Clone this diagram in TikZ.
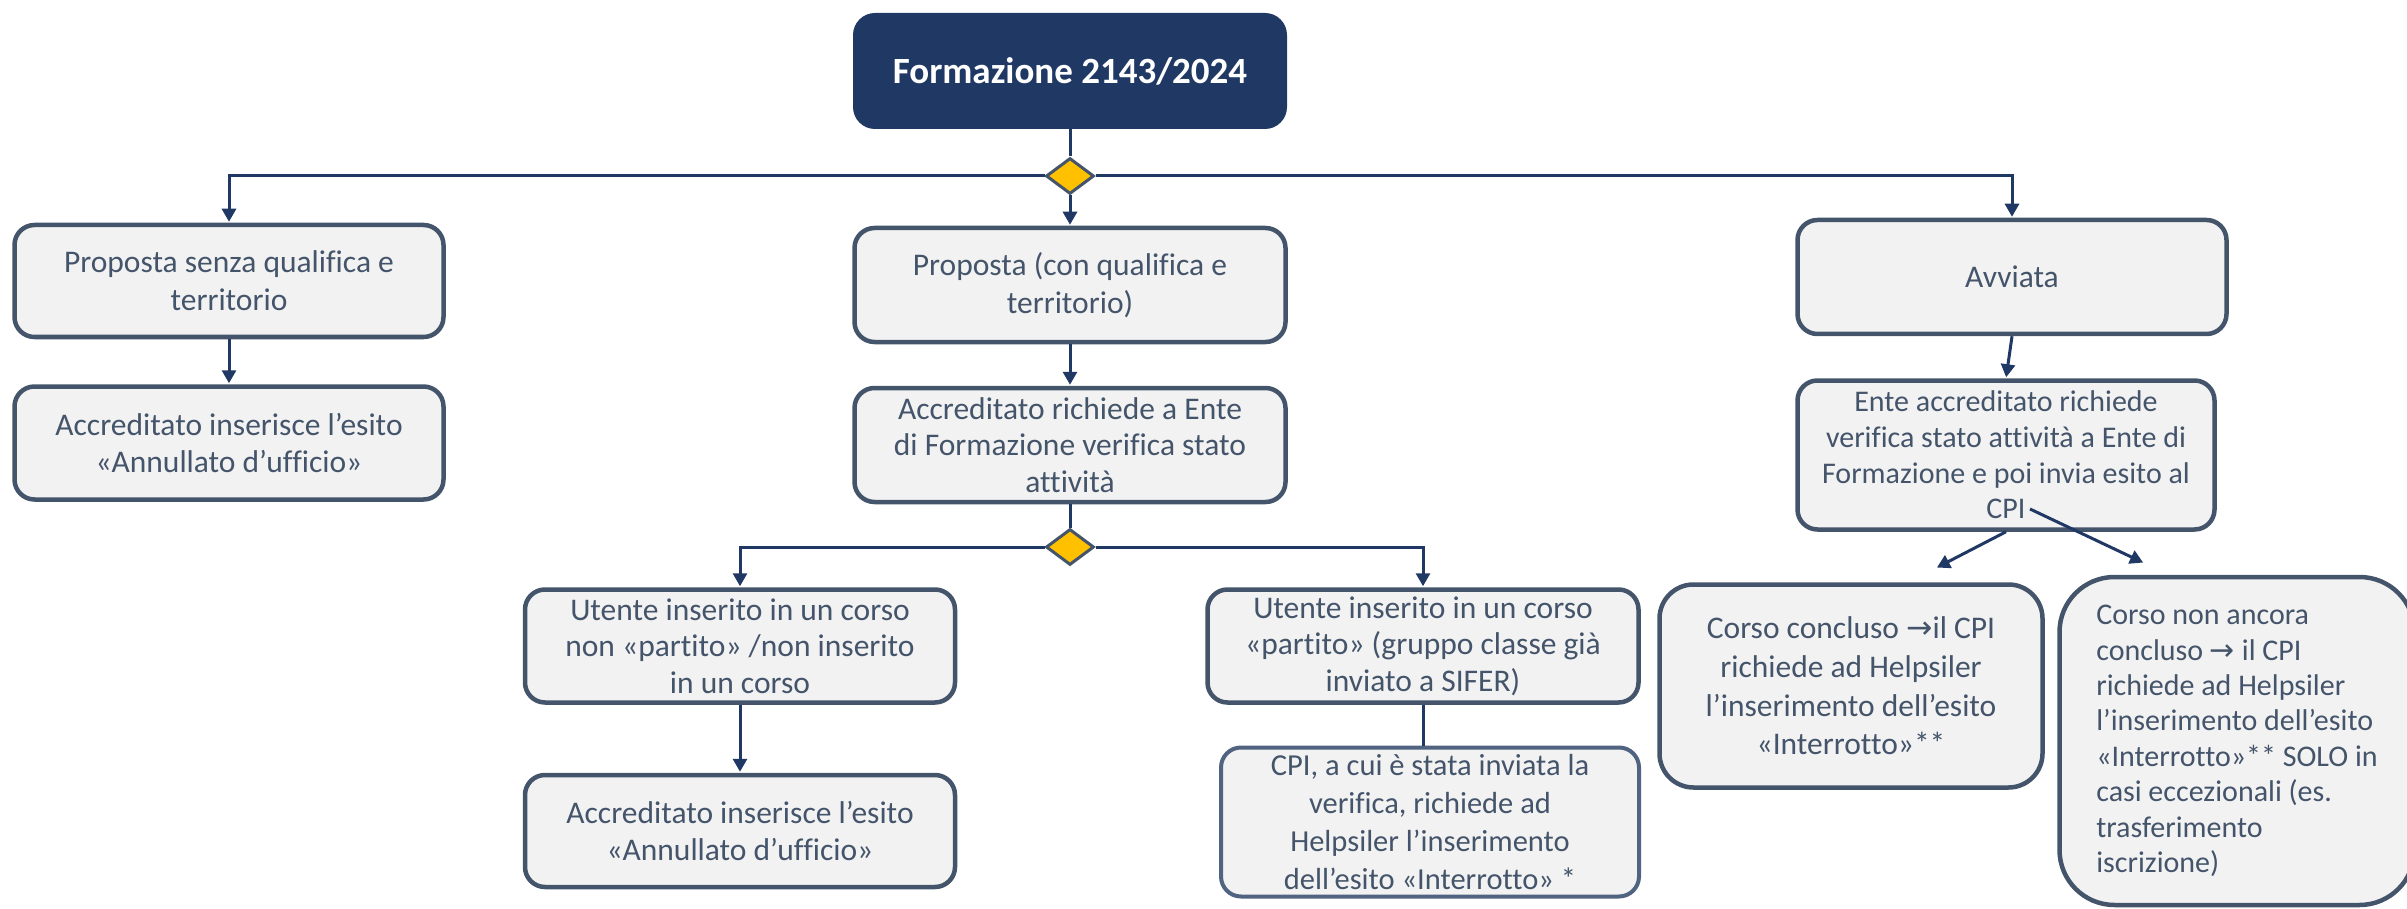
\documentclass[tikz,border=0pt]{standalone}
\usepackage{fontspec}
\setmainfont{Carlito}[Ligatures=NoCommon]
\newfontfamily\symfont{DejaVu Sans}
\usepackage{tikz}
\usetikzlibrary{shapes.geometric,arrows.meta}
\pgfdeclarelayer{background}
\pgfdeclarelayer{foreground}
\pgfsetlayers{background,main,foreground}
\definecolor{navy}{RGB}{32,56,100}
\definecolor{slate}{RGB}{68,84,106}
\definecolor{slateblue}{RGB}{80,99,128}
\definecolor{boxfill}{RGB}{242,242,242}
\definecolor{gold}{RGB}{255,192,0}
\tikzset{
  stepbox/.style={draw=slate, line width=4.5pt, fill=boxfill, rounded corners=20pt,
    text=slate, align=center, inner sep=0pt, font=\fontsize{31.5}{37.7}\selectfont},
  titlebox/.style={fill=navy, rounded corners=22pt, text=white, align=center,
    inner sep=0pt, font=\fontsize{37}{44}\selectfont\bfseries},
  choice/.style={diamond, draw=slate, line width=3pt, fill=gold, inner sep=0pt,
    minimum width=48pt, minimum height=36pt},
  flow/.style={draw=navy, line width=3pt, -{Triangle[length=13pt,width=14pt]}, shorten >=1pt},
  joint/.style={draw=navy, line width=3pt}
}
\newcommand{\rarr}{{\symfont →}}
\begin{document}
\begin{tikzpicture}[x=1pt,y=-1pt]
\useasboundingbox (0,0) rectangle (2407,909);

\node[titlebox, minimum width=434pt, minimum height=116pt] (top) at (1070,71) {Formazione 2143/2024};
\node[choice] (d1) at (1070,176) {};

% ramo sinistro
\node[stepbox, minimum width=429pt, minimum height=112pt] (senza) at (229,281) {Proposta senza qualifica e\\territorio};
\node[stepbox, minimum width=429pt, minimum height=113pt] (annA) at (229,443) {Accreditato inserisce l’esito\\«Annullato d’ufficio»};

% ramo centrale
\node[stepbox, minimum width=431pt, minimum height=114pt] (conq) at (1070,285) {Proposta (con qualifica e\\territorio)};
\node[stepbox, minimum width=431pt, minimum height=114pt, font=\fontsize{31.5}{36.5}\selectfont] (verif) at (1070,445) {Accreditato richiede a Ente\\di Formazione verifica stato\\attività};
\node[choice] (d2) at (1070,547) {};
\node[stepbox, minimum width=430pt, minimum height=113pt, font=\fontsize{31.5}{36.5}\selectfont] (nonpart) at (740,646) {Utente inserito in un corso\\non «partito» /non inserito\\in un corso};
\node[stepbox, minimum width=430pt, minimum height=112pt] (annB) at (740,831) {Accreditato inserisce l’esito\\«Annullato d’ufficio»};
\node[stepbox, minimum width=431pt, minimum height=113pt, font=\fontsize{31.5}{36.5}\selectfont] (part) at (1423,646) {Utente inserito in un corso\\«partito» (gruppo classe già\\inviato a SIFER)};
\node[stepbox, draw=slateblue, line width=4pt, minimum width=418pt, minimum height=149pt, font=\fontsize{30.5}{38}\selectfont] (cpi) at (1430,822) {CPI, a cui è stata inviata la\\verifica, richiede ad\\Helpsiler l’inserimento\\dell’esito «Interrotto» *};

% ramo destro
\node[stepbox, minimum width=429pt, minimum height=114pt] (avv) at (2012,277) {Avviata};
\node[stepbox, minimum width=417pt, minimum height=149pt, font=\fontsize{30}{35.7}\selectfont] (ente) at (2006,455) {Ente accreditato richiede\\verifica stato attività a Ente di\\Formazione e poi invia esito al\\CPI};
\node[stepbox, minimum width=383pt, minimum height=203pt, rounded corners=34pt, font=\fontsize{31.5}{38.6}\selectfont] (concl) at (1851,686) {Corso concluso \rarr il CPI\\richiede ad Helpsiler\\l’inserimento dell’esito\\«Interrotto»**};
\node[stepbox, minimum width=355pt, minimum height=328pt, rounded corners=55pt, align=left, font=\fontsize{30}{35.4}\selectfont] (nonconcl) at (2237,741) {Corso non ancora\\concluso \rarr\ il CPI\\richiede ad Helpsiler\\l’inserimento dell’esito\\«Interrotto»** SOLO in\\casi eccezionali (es.\\trasferimento\\iscrizione)};

\coordinate (cpiword) at (2030,509);
\coordinate (toconcl) at (1936,568);
\coordinate (tononc) at (2144,563);

\draw[joint] (top.south) -- (d1.north);
\draw[flow] (d1.west) -| (senza.north);
\draw[flow] (d1.east) -| (avv.north);
\draw[flow] (d1.south) -- (conq.north);
\draw[flow] (senza.south) -- (annA.north);
\draw[flow] (conq.south) -- (verif.north);
\draw[joint] (verif.south) -- (d2.north);
\draw[flow] (d2.west) -| (nonpart.north);
\draw[flow] (d2.east) -| (part.north);
\draw[flow] (nonpart.south) -- (annB.north);
\draw[joint] (part.south) -- (part.south |- cpi.north);
\draw[flow] (avv.south) -- (ente.north);
\draw[flow] (ente.south) -- (toconcl);
\draw[flow] (cpiword) -- (tononc);
\end{tikzpicture}
\end{document}
